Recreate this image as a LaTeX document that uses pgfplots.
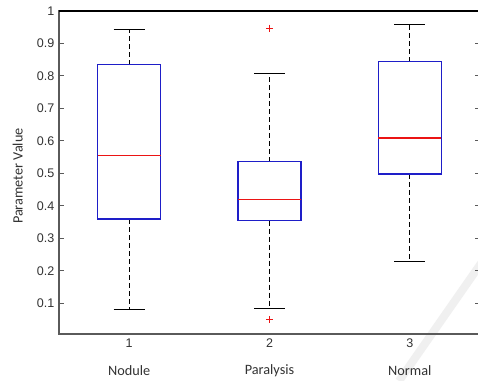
\documentclass[border=0pt]{standalone}
\usepackage{fontspec}
\setmainfont{Liberation Sans}
\newfontfamily\carlito{Carlito}
\usepackage{pgfplots}
\pgfplotsset{compat=1.18}
\usepgfplotslibrary{statistics}

\definecolor{mblue}{RGB}{30,30,200}
\definecolor{mred}{RGB}{235,20,20}
\definecolor{axgray}{RGB}{90,90,90}

\tikzset{
  mwhisk/.style={black, line width=0.8pt, dash pattern=on 3.75pt off 2.25pt},
  mcap/.style={black, line width=0.8pt, solid},
}
\pgfplotsset{
  boxplot/draw direction=y,
  boxplot/draw/lower whisker/.code={
    \draw[mwhisk] (boxplot box cs:\pgfplotsboxplotvalue{lower quartile},0.5) -- (boxplot box cs:\pgfplotsboxplotvalue{lower whisker},0.5);
    \draw[mcap] (boxplot whisker cs:\pgfplotsboxplotvalue{lower whisker},0) -- (boxplot whisker cs:\pgfplotsboxplotvalue{lower whisker},1);
  },
  boxplot/draw/upper whisker/.code={
    \draw[mwhisk] (boxplot box cs:\pgfplotsboxplotvalue{upper quartile},0.5) -- (boxplot box cs:\pgfplotsboxplotvalue{upper whisker},0.5);
    \draw[mcap] (boxplot whisker cs:\pgfplotsboxplotvalue{upper whisker},0) -- (boxplot whisker cs:\pgfplotsboxplotvalue{upper whisker},1);
  },
  boxplot/draw/median/.code={
    \draw[mred, line width=0.9pt, solid] (boxplot box cs:\pgfplotsboxplotvalue{median},0) -- (boxplot box cs:\pgfplotsboxplotvalue{median},1);
  },
  boxplot/every box/.style={draw=mblue, line width=0.9pt, solid},
}

\begin{document}
\begin{tikzpicture}[x=1pt,y=1pt]
\fill[white] (-44.25,-35.25) rectangle (314.25,250.5);
\draw[line width=6pt, black!6] (255,-35.25) -- (320,58);
\begin{axis}[
  at={(0,0)}, anchor=south west,
  scale only axis, width=315.75pt, height=242.25pt,
  xmin=0.5, xmax=3.5, ymin=0.005, ymax=1,
  clip=false,
  axis line style={axgray, line width=0.8pt},
  xtick={1,2,3}, xticklabels={1,2,3},
  ytick={0.1,0.2,0.3,0.4,0.5,0.6,0.7,0.8,0.9,1},
  yticklabels={0.1,0.2,0.3,0.4,0.5,0.6,0.7,0.8,0.9,1},
  major x tick style={draw=none},
  major y tick style={axgray, line width=0.8pt},
  major tick length=3.75pt,
  tick align=inside,
  ytick pos=both,
  xtick pos=bottom,
  /pgf/number format/assume math mode=true,
  ticklabel style={font=\fontsize{9.4}{10}\selectfont, text=black!80},
  yticklabel pos=left,
  ylabel={Parameter Value},
  ylabel style={font=\carlito\fontsize{10.7}{12}\selectfont, text=black!80, at={(axis description cs:-0.0981,0.489)}, anchor=center},
]
\draw[black, line width=0.8pt] (rel axis cs:0,1) -- (rel axis cs:1,1);

\addplot[mblue, boxplot prepared={draw position=1, lower whisker=0.081, lower quartile=0.359, median=0.556, upper quartile=0.835, upper whisker=0.944, box extend=0.45, whisker extend=0.22}] coordinates {};

\addplot[mblue, mark=+, mark size=2.6pt, mark options={draw=mred, solid, line width=0.8pt},
  boxplot prepared={draw position=2, lower whisker=0.084, lower quartile=0.354, median=0.419, upper quartile=0.536, upper whisker=0.808, box extend=0.45, whisker extend=0.22}]
  table[row sep=\\, y index=0] {y\\ 0.947\\ 0.049\\};

\addplot[mblue, boxplot prepared={draw position=3, lower whisker=0.229, lower quartile=0.498, median=0.609, upper quartile=0.844, upper whisker=0.957, box extend=0.45, whisker extend=0.22}] coordinates {};

\node[font=\carlito\fontsize{10.7}{12}\selectfont, text=black!80] at (rel axis cs:0.16667,0) [yshift=-27.75pt] {Nodule};
\node[font=\carlito\fontsize{10.7}{12}\selectfont, text=black!80] at (rel axis cs:0.5,0) [yshift=-27.75pt] {Paralysis};
\node[font=\carlito\fontsize{10.7}{12}\selectfont, text=black!80] at (rel axis cs:0.83333,0) [yshift=-27.75pt] {Normal};
\end{axis}
\pgfresetboundingbox
\path[use as bounding box] (-44.25,-35.25) rectangle (314.25,250.5);
\end{tikzpicture}
\end{document}
